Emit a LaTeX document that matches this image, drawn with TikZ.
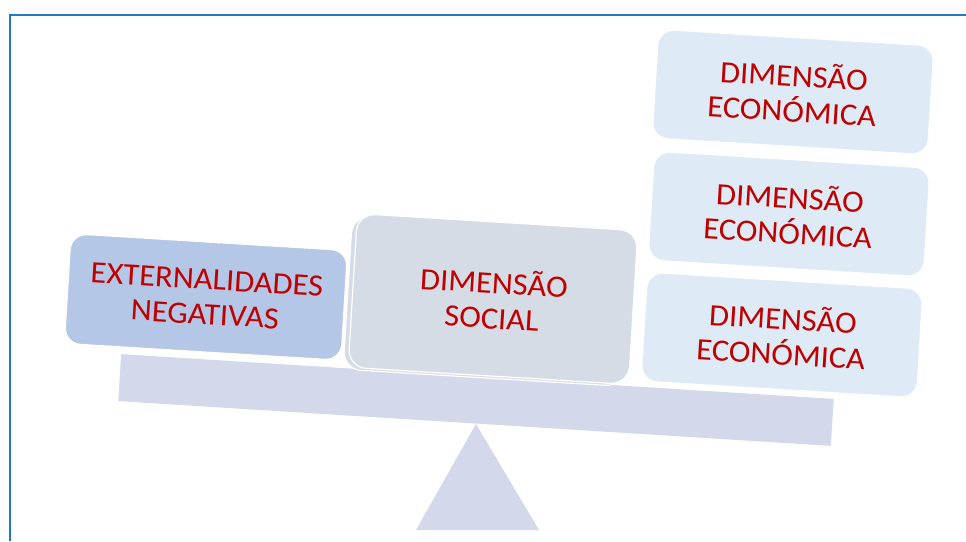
\documentclass[tikz,border=0pt]{standalone}
\usepackage{fontspec}
\setmainfont{Carlito}[FakeStretch=1.05]
\definecolor{frameblue}{RGB}{30,122,200}
\definecolor{beamcol}{RGB}{211,216,234}
\definecolor{extcol}{RGB}{180,199,231}
\definecolor{soccol}{RGB}{214,220,229}
\definecolor{ecocol}{RGB}{222,235,247}
\definecolor{txtred}{RGB}{192,0,0}
\begin{document}
\begin{tikzpicture}[x=1pt,y=1pt,
  box/.style={rectangle, rounded corners=16pt, draw=white, line width=1.2pt,
    rotate=-3.5, align=center, text=txtred, inner sep=0pt,
    font=\fontsize{31}{35}\selectfont},
  extbox/.style={box, fill=extcol, minimum width=277pt, minimum height=110pt},
  socbox/.style={box, fill=soccol, rounded corners=18pt, minimum width=281pt, minimum height=154pt},
  ecobox/.style={box, fill=ecocol, minimum width=276pt, minimum height=109pt},
  beambar/.style={rectangle, fill=beamcol, rotate=-3.6, inner sep=0pt,
    minimum width=714pt, minimum height=47pt},
  framebar/.style={frameblue, line width=2.5pt}]
\useasboundingbox (0,0) rectangle (966,-541);
\fill[white] (0,0) rectangle (966,-541);
\draw[framebar] (10,-541) -- (10,-15) -- (966,-15);

% scale
\node[beambar] (beam) at (476,-400) {};
\fill[beamcol] (476,-424) -- (539,-530) -- (416,-530) -- cycle;

% boxes
\node[extbox] (ext) at (206,-297) {EXTERNALIDADES\\NEGATIVAS};
\node[socbox, draw=white] (socback) at (488,-301) {};
\node[socbox] (soc) at (493,-299) {DIMENSÃO\\SOCIAL};
\node[ecobox] (eco1) at (793,-92) {DIMENSÃO\\ECONÓMICA};
\node[ecobox] (eco2) at (789,-214) {DIMENSÃO\\ECONÓMICA};
\node[ecobox] (eco3) at (782,-335) {DIMENSÃO\\ECONÓMICA};
\end{tikzpicture}
\end{document}
